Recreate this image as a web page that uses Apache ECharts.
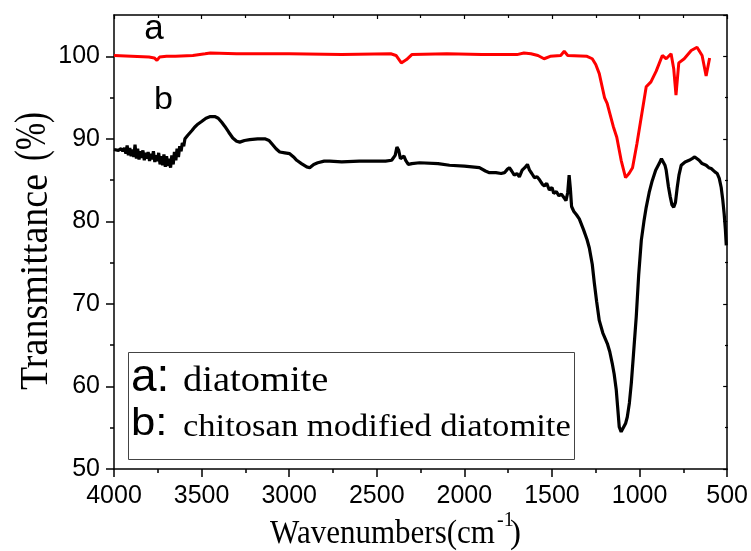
<!DOCTYPE html>
<html>
<head>
<meta charset="utf-8">
<script src="https://cdn.jsdelivr.net/npm/echarts@6/dist/echarts.min.js"></script>
<style>
html,body{margin:0;padding:0;background:#fff;}
#chart{width:751px;height:551px;}
</style>
</head>
<body>
<div id="chart"></div>
<script>
// Curve a: diatomite (wavenumber cm^-1, transmittance %)
const waveA = [4000,3900,3800,3770,3755,3740,3700,3650,3550,3480,3450,3300,3000,2700,2420,2390,2360,2345,2330,2300,2100,1900,1700,1660,1620,1580,1545,1510,1450,1430,1410,1300,1270,1250,1230,1200,1185,1150,1130,1105,1080,1060,1040,1015,975,962,935,905,870,848,820,805,792,776,745,705,672,643,620,600];
const transA = [100.1,100.0,99.9,99.8,99.5,99.9,100.0,100.0,100.1,100.3,100.4,100.3,100.3,100.2,100.3,100.1,99.2,99.4,99.6,100.2,100.3,100.2,100.2,100.4,100.3,100.1,99.7,100.0,100.1,100.6,100.1,100.0,99.7,99.0,97.9,95.0,94.3,91.5,90.2,87.4,85.3,85.8,86.5,89.4,94.6,96.3,96.9,98.2,100.1,99.7,100.3,98.5,95.3,99.2,99.7,100.7,101.1,100.1,97.6,99.8];

// Curve b: chitosan modified diatomite
const waveB = [4000,3990,3975,3960,3950,3940,3932,3925,3918,3910,3902,3895,3887,3880,3872,3865,3857,3850,3842,3835,3827,3820,3812,3805,3797,3790,3782,3775,3767,3760,3752,3745,3737,3730,3722,3715,3707,3700,3692,3685,3677,3670,3662,3655,3647,3640,3632,3625,3617,3610,3602,3595,3587,3580,3570,3555,3540,3520,3500,3475,3450,3425,3405,3385,3367,3345,3322,3300,3282,3255,3225,3180,3139,3115,3099,3075,3054,3025,2997,2975,2957,2930,2900,2883,2860,2837,2800,2769,2700,2600,2500,2450,2415,2395,2385,2375,2365,2355,2345,2335,2320,2300,2256,2150,2085,2000,1914,1880,1857,1820,1790,1771,1755,1743,1730,1715,1700,1686,1670,1655,1640,1628,1615,1600,1585,1570,1555,1543,1530,1515,1500,1490,1475,1460,1446,1432,1420,1410,1402,1395,1388,1375,1360,1344,1320,1300,1287,1270,1258,1245,1230,1210,1184,1170,1156,1145,1133,1125,1116,1105,1095,1080,1070,1058,1047,1035,1019,1005,990,975,962,945,928,908,888,875,865,855,848,835,825,815,805,795,785,775,762,740,717,700,685,677,660,643,620,605,591,570,557,545,534,525,517,510,505];
const transB = [88.7,88.8,88.6,88.8,88.5,88.9,88.2,89.2,88.0,88.9,87.9,88.7,87.8,89.3,87.6,88.8,87.5,88.5,87.7,88.6,87.4,88.3,87.6,88.4,87.3,88.2,87.5,88.5,87.2,88.0,87.3,88.3,86.9,87.9,86.8,88.1,86.6,87.9,86.7,87.6,86.5,88.0,86.9,88.4,87.4,88.8,87.8,89.1,88.5,89.5,89.1,90.0,89.8,90.4,90.6,91.0,91.4,91.8,92.1,92.5,92.7,92.7,92.5,92.0,91.5,90.8,90.1,89.7,89.6,89.8,89.9,90.0,90.0,89.8,89.4,88.8,88.4,88.3,88.2,87.8,87.4,87.0,86.6,86.5,86.9,87.1,87.3,87.3,87.2,87.3,87.3,87.3,87.4,88.0,89.0,88.6,87.6,87.5,87.9,87.4,86.9,87.0,87.1,87.0,86.8,86.7,86.5,86.1,85.9,85.9,85.8,85.9,86.3,86.5,86.1,85.6,85.8,85.4,86.2,86.5,86.9,86.2,85.8,85.3,85.4,85.0,84.5,84.3,84.6,83.8,84.1,83.4,83.6,83.1,83.3,82.9,82.5,83.5,85.6,84.0,81.8,81.2,80.8,80.3,79.0,77.8,76.8,74.8,72.5,70.3,68.0,66.5,65.2,64.2,62.8,61.5,59.6,57.5,55.1,54.5,54.7,55.5,56.3,58.0,60.4,63.8,68.4,73.5,77.7,80.0,81.7,83.5,84.9,86.2,87.0,87.6,87.5,86.8,86.2,84.2,83.0,82.0,81.7,82.3,84.1,85.6,86.8,87.2,87.4,87.6,87.8,87.7,87.4,87.0,86.8,86.5,86.4,86.0,85.8,85.2,84.1,82.6,80.9,79.0,77.1];

const xMin = 500, xMax = 4000, xStep = 500;
const yMin = 50, yMax = 105, yStep = 10;
// minor y ticks at 55, 65, ..., 95
const yMinorMin = 55, yMinorMax = 95;

const seriesNames = ['a', 'b'];
const legendKeys = ['a:', 'b:'];
const legendTexts = ['diatomite', 'chitosan modified diatomite'];
const yTitle = 'Transmittance';
const yTitleUnit = '(%)';
const xTitle = 'Wavenumbers(cm';
const xTitleSup = '-1';

const zip = (w, t) => w.map((v, i) => [v, t[i]]);

const chart = echarts.init(document.getElementById('chart'), null, {renderer: 'canvas'});

const axisLine = {show: true, lineStyle: {color: '#000', width: 1.5}};
const sans = 'Liberation Sans';
const serif = 'Liberation Serif';

// plot area
const G = {left: 114, right: 23, top: 15, bottom: 82};
const plotH = 551 - G.top - G.bottom;
const yPix = v => 551 - G.bottom - (v - yMin) / (yMax - yMin) * plotH;

function mid(baseline, size, serifFont) {
  return baseline - (serifFont ? 0.3375 : 0.3465) * size;
}
function txt(x, y, text, size, family, align, extra) {
  return Object.assign({type: 'text', x: x, y: y, z: 11,
    style: {text: text, font: size + 'px "' + family + '"', fill: '#000',
      textAlign: align, textVerticalAlign: 'middle', align: align, verticalAlign: 'middle'}}, extra || {});
}

const option = {
  animation: false,
  backgroundColor: '#fff',
  grid: [
    {left: G.left, right: G.right, top: G.top, bottom: G.bottom, containLabel: false},
    {left: G.left, right: G.right, top: yPix(yMinorMax), bottom: 551 - yPix(yMinorMin), containLabel: false}
  ],
  xAxis: [
    {
      type: 'value', inverse: true, min: xMin, max: xMax, interval: xStep, position: 'bottom', gridIndex: 0,
      axisLine: axisLine,
      axisTick: {show: true, inside: false, length: 8, lineStyle: {color: '#000', width: 1.5}},
      minorTick: {show: true, splitNumber: 2, length: 4, lineStyle: {color: '#000', width: 1.5}},
      axisLabel: {show: true, margin: 15, fontSize: 25, fontFamily: sans, color: '#000',
        formatter: v => String(v)},
      splitLine: {show: false}, minorSplitLine: {show: false}
    },
    {
      type: 'value', inverse: true, min: xMin, max: xMax, interval: xStep, position: 'top', gridIndex: 0,
      axisLine: axisLine,
      axisTick: {show: true, inside: true, length: 4, lineStyle: {color: '#000', width: 1.2}},
      minorTick: {show: true, splitNumber: 2, length: 3, lineStyle: {color: '#000', width: 1.2}},
      axisLabel: {show: false}, splitLine: {show: false}
    },
    {
      type: 'value', min: xMin, max: xMax, gridIndex: 1, show: false
    }
  ],
  yAxis: [
    {
      type: 'value', min: yMin, max: yMax, interval: yStep, position: 'left', gridIndex: 0,
      axisLine: axisLine,
      axisTick: {show: true, inside: false, length: 8, lineStyle: {color: '#000', width: 1.5}},
      axisLabel: {show: true, margin: 14, fontSize: 25, fontFamily: sans, color: '#000', showMaxLabel: false,
        formatter: v => String(v)},
      splitLine: {show: false}
    },
    {
      type: 'value', min: yMin, max: yMax, interval: yStep, position: 'right', gridIndex: 0,
      axisLine: axisLine,
      axisTick: {show: true, inside: true, length: 4, lineStyle: {color: '#000', width: 1.2}},
      axisLabel: {show: false}, splitLine: {show: false}
    },
    {
      type: 'value', min: yMinorMin, max: yMinorMax, interval: yStep, position: 'left', gridIndex: 1,
      axisLine: {show: false},
      axisTick: {show: true, inside: false, length: 4, lineStyle: {color: '#000', width: 1.5}},
      axisLabel: {show: false}, splitLine: {show: false}
    },
    {
      type: 'value', min: yMinorMin, max: yMinorMax, interval: yStep, position: 'right', gridIndex: 1,
      axisLine: {show: false},
      axisTick: {show: true, inside: true, length: 3, lineStyle: {color: '#000', width: 1.2}},
      axisLabel: {show: false}, splitLine: {show: false}
    }
  ],
  series: [
    {
      name: seriesNames[0], type: 'line', xAxisIndex: 0, yAxisIndex: 0,
      data: zip(waveA, transA), showSymbol: false, symbol: 'none',
      lineStyle: {color: '#ff0000', width: 3}, z: 3
    },
    {
      name: seriesNames[1], type: 'line', xAxisIndex: 0, yAxisIndex: 0,
      data: zip(waveB, transB), showSymbol: false, symbol: 'none',
      lineStyle: {color: '#000000', width: 3.2}, z: 2
    }
  ],
  graphic: [
    // curve labels
    txt(154, mid(41, 35, false), seriesNames[0], 35, sans, 'center'),
    txt(163.5, mid(111, 31, false), seriesNames[1], 31, sans, 'center', {scaleX: 1.1}),
    // legend box
    {type: 'rect', shape: {x: 128.5, y: 352.5, width: 446, height: 107}, z: 10,
     style: {fill: '#fff', stroke: '#444', lineWidth: 1}},
    txt(131, mid(394, 46, false), legendKeys[0], 46, sans, 'left'),
    txt(183, mid(394, 35, true), legendTexts[0], 35, serif, 'left', {scaleX: 1.1}),
    txt(131, mid(438, 38, false), legendKeys[1], 38, sans, 'left', {scaleX: 1.15}),
    txt(183, mid(438, 31, true), legendTexts[1], 31, serif, 'left', {scaleX: 1.115}),
    // y axis title
    txt(36.5, 282, yTitle, 40, serif, 'center', {rotation: Math.PI / 2, scaleX: 0.95}),
    txt(33, 136.5, yTitleUnit, 44, serif, 'center', {rotation: Math.PI / 2, scaleX: 0.74}),
    // x axis title
    txt(495, mid(545, 33, true), xTitle, 33, serif, 'right', {scaleX: 0.94}),
    txt(497, mid(527, 20, true), xTitleSup, 20, serif, 'left'),
    txt(510, mid(545, 33, true), ')', 33, serif, 'left')
  ]
};
chart.setOption(option);
</script>
</body>
</html>
